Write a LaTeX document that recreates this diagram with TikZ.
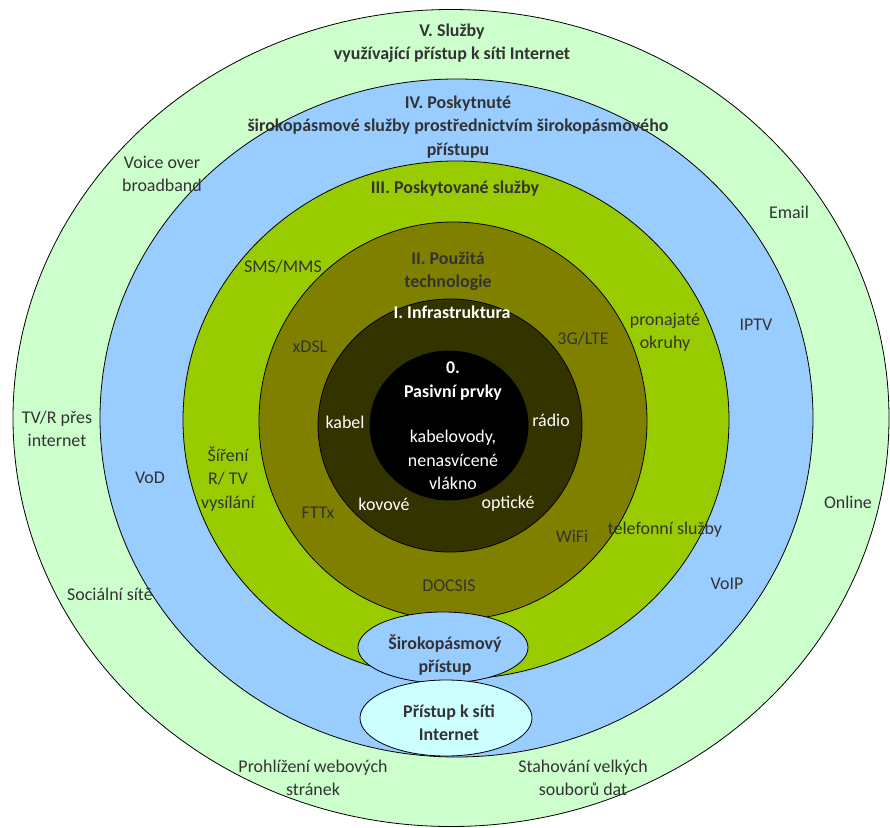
\documentclass[tikz,border=0pt]{standalone}
\usepackage{fontspec}
\setmainfont{Carlito}
\usetikzlibrary{shapes.geometric}
\definecolor{cV}{HTML}{CCFFCC}
\definecolor{cIV}{HTML}{99CCFF}
\definecolor{cIII}{HTML}{99CC00}
\definecolor{cII}{HTML}{808000}
\definecolor{cI}{HTML}{333300}
\definecolor{cE}{HTML}{CCFFFF}
\definecolor{txt}{HTML}{333333}
\begin{document}
\begin{tikzpicture}[x=1bp,y=-1bp,
  ring/.style={ellipse, draw=black, line width=0.8bp, inner sep=0pt, outer sep=0pt},
  lbl/.style={font=\fontsize{18}{23.5}\selectfont, text=txt, align=center, inner sep=0pt},
  ttl/.style={lbl, font=\fontsize{18}{23.5}\selectfont\bfseries},
  wlbl/.style={lbl, text=white},
  wttl/.style={ttl, text=white}]
\useasboundingbox (0,0) rectangle (890,828);
% rings
\node[ring, fill=cV,  minimum width=876bp, minimum height=817bp] (rV)   at (451,418) {};
\node[ring, fill=cIV, minimum width=713bp, minimum height=678bp] (rIV)  at (456.5,418) {};
\node[ring, fill=cIII,minimum width=546bp, minimum height=518bp] (rIII) at (456,420) {};
\node[ring, fill=cII, minimum width=388bp, minimum height=398bp] (rII)  at (453,421) {};
\node[ring, fill=cI,  minimum width=264bp, minimum height=253bp] (rI)   at (450,425.5) {};
\node[ring, fill=black, minimum width=158bp, minimum height=149bp] (r0) at (449,425.5) {};
\node[ring, fill=cIV, minimum width=170bp, minimum height=71bp] (e1) at (443,647.5) {};
\node[ring, fill=cE,  minimum width=172bp, minimum height=76bp] (e2) at (446,718) {};
% titles
\node[ttl] (tV) at (452,43) {V. Služby\\využívající přístup k síti Internet};
\node[ttl] (tIV) at (458,127) {IV. Poskytnuté\\širokopásmové služby prostřednictvím širokopásmového\\přístupu};
\node[ttl] (tIII) at (455,189) {III. Poskytované služby};
\node[ttl] (tII) at (448,271) {II. Použitá\\technologie};
\node[wttl] (tI) at (452,312) {I. Infrastruktura};
\node[wttl] (t0) at (453,381) {0.\\Pasivní prvky};
\node[wlbl] (pas) at (453,460) {kabelovody,\\nenasvícené\\vlákno};
\node[ttl] (te1) at (445,655) {Širokopásmový\\přístup};
\node[ttl] (te2) at (449,723) {Přístup k síti\\Internet};
% ring I items
\node[wlbl] (kabel) at (345,422) {kabel};
\node[wlbl] (radio) at (551,420) {rádio};
\node[wlbl] (kovove) at (384,504) {kovové};
\node[wlbl] (opticke) at (508,504) {optické};
% ring II items
\node[lbl] (xdsl) at (310,347) {xDSL};
\node[lbl] (lte) at (583,339) {3G/LTE};
\node[lbl] (fttx) at (318,513) {FTTx};
\node[lbl] (wifi) at (572,536) {WiFi};
\node[lbl] (docsis) at (449,586) {DOCSIS};
% ring III items
\node[lbl] (sms) at (283,267) {SMS/MMS};
\node[lbl] (pron) at (665,332) {pronajaté\\okruhy};
\node[lbl] (sireni) at (228,479) {Šíření\\R/ TV\\vysílání};
\node[lbl] (tel) at (665,530) {telefonní služby};
% ring IV items
\node[lbl] (iptv) at (756,325) {IPTV};
\node[lbl] (vod) at (150,478) {VoD};
\node[lbl] (voip) at (727,584) {VoIP};
% ring V items
\node[lbl] (voice) at (162,174) {Voice over\\broadband};
\node[lbl] (email) at (789,212) {Email};
\node[lbl] (tvr) at (57,429) {TV/R přes\\internet};
\node[lbl] (online) at (848,502) {Online};
\node[lbl] (soc) at (110,594) {Sociální sítě};
\node[lbl] (web) at (313,778) {Prohlížení webových\\stránek};
\node[lbl] (stah) at (583,778) {Stahování velkých\\souborů dat};
\end{tikzpicture}
\end{document}
